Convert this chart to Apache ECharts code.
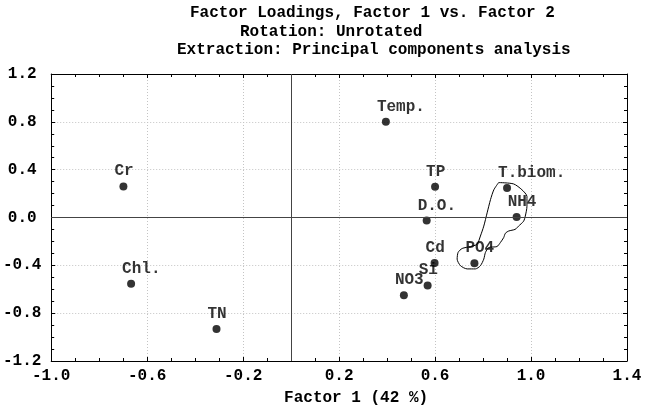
<!DOCTYPE html>
<html>
<head>
<meta charset="utf-8">
<script src="https://cdn.jsdelivr.net/npm/echarts@6/dist/echarts.min.js"></script>
<style>
  html, body { margin: 0; padding: 0; background: #fff; }
  #main { width: 647px; height: 411px; }
</style>
</head>
<body>
<div id="main"></div>
<script>
// factor loadings
var varNames = ['Temp.', 'TP', 'T.biom.', 'NH4', 'D.O.', 'Cd', 'PO4', 'Si', 'NO3', 'Cr', 'Chl.', 'TN'];
var factor1 = [0.395, 0.60, 0.90, 0.94, 0.565, 0.598, 0.764, 0.569, 0.47, -0.699, -0.667, -0.311];
var factor2 = [0.80, 0.257, 0.246, 0.005, -0.025, -0.38, -0.383, -0.568, -0.65, 0.26, -0.555, -0.933];

// hand drawn outline around T.biom., NH4 and PO4 (data units)
var blobX = [0.865, 0.927, 0.962, 0.983, 0.983, 0.976, 0.969, 0.948, 0.934, 0.907, 0.893, 0.886, 0.872, 0.858, 0.824, 0.81, 0.803, 0.789, 0.768, 0.734, 0.706, 0.692, 0.696, 0.713, 0.748, 0.775, 0.789, 0.803, 0.817, 0.831, 0.845, 0.865];
var blobY = [0.292, 0.281, 0.232, 0.176, 0.094, 0.011, -0.031, -0.072, -0.099, -0.113, -0.132, -0.168, -0.21, -0.243, -0.251, -0.292, -0.348, -0.403, -0.43, -0.43, -0.403, -0.348, -0.292, -0.259, -0.243, -0.224, -0.155, -0.072, 0.039, 0.149, 0.232, 0.292];

var titleLines = [
    'Factor Loadings, Factor 1 vs. Factor 2',
    'Rotation: Unrotated',
    'Extraction: Principal components analysis'
];
var xName = 'Factor 1 (42 %)';

var mono = "'Liberation Mono', 'DejaVu Sans Mono', monospace";
var txt = { fontFamily: mono, fontSize: 16, fontWeight: 'bold', color: '#000' };

var points = varNames.map(function (n, i) {
    return { name: n, value: [factor1[i], factor2[i]] };
});
var blob = blobX.map(function (x, i) { return [x, blobY[i]]; });

function frameAxis(pos, min, max, grid) {
    return {
        type: 'value', position: pos, min: min, max: max, interval: 0.4,
        axisLine: { show: true, onZero: false, lineStyle: { color: '#000', width: 1 } },
        axisTick: { show: true, inside: true, length: 4, lineStyle: { color: '#000' } },
        minorTick: { show: true, splitNumber: 4, length: 3, lineStyle: { color: '#000' } },
        axisLabel: { show: false },
        splitLine: grid ? { show: true, lineStyle: { color: '#c4c4c4', type: [1, 2], width: 1 } } : { show: false }
    };
}

var myChart = echarts.init(document.getElementById('main'));

var xBottom = frameAxis('bottom', -1.0, 1.4, true);
xBottom.axisLabel = Object.assign({ show: true, margin: 7, formatter: function (v) { return v.toFixed(1); } }, txt);
xBottom.name = xName;
xBottom.nameLocation = 'middle';
xBottom.nameGap = 29;
xBottom.nameTextStyle = Object.assign({ padding: [0, 0, 0, 34] }, txt);

var yLeft = frameAxis('left', -1.2, 1.2, true);
yLeft.axisLabel = Object.assign({ show: true, margin: 29, align: 'center', formatter: function (v) { return v.toFixed(1); } }, txt);

option = {
    animation: false,
    backgroundColor: '#fff',
    title: titleLines.map(function (t, i) {
        return {
            text: t,
            left: [190, 240, 177][i],
            top: [5, 24, 42][i],
            padding: 0,
            textStyle: Object.assign({ lineHeight: 16 }, txt)
        };
    }),
    grid: { left: 49, right: 20, top: 74, bottom: 48, containLabel: false },
    xAxis: [xBottom, frameAxis('top', -1.0, 1.4, false)],
    yAxis: [yLeft, frameAxis('right', -1.2, 1.2, false)],
    series: [{
        type: 'line',
        data: blob,
        smooth: 0.25,
        symbol: 'none',
        silent: true,
        lineStyle: { color: '#000', width: 1 },
        z: 3
    }, {
        type: 'scatter',
        data: points,
        symbol: 'circle',
        symbolSize: 8,
        itemStyle: { color: '#000' },
        label: Object.assign({
            show: true,
            position: 'top',
            distance: 3,
            align: 'left',
            offset: [-9, 0],
            formatter: '{b}'
        }, txt),
        markLine: {
            silent: true,
            symbol: 'none',
            label: { show: false },
            lineStyle: { color: '#444', type: 'solid', width: 1 },
            data: [{ xAxis: 0 }, { yAxis: 0 }]
        },
        z: 4
    }]
};
myChart.setOption(option);
</script>
</body>
</html>
